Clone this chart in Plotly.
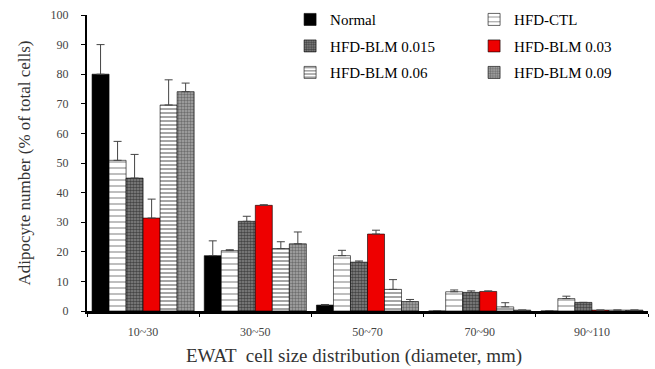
import plotly.graph_objects as go

categories = ["10~30", "30~50", "50~70", "70~90", "90~110"]
series_names = ["Normal", "HFD-CTL", "HFD-BLM 0.015", "HFD-BLM 0.03", "HFD-BLM 0.06", "HFD-BLM 0.09"]

normal = [80.0, 18.7, 2.0, 0.0, 0.0]
hfd_ctl = [50.9, 20.4, 18.7, 6.5, 4.2]
blm_0015 = [44.9, 30.3, 16.5, 6.3, 2.9]
blm_003 = [31.4, 35.7, 26.0, 6.6, 0.3]
blm_006 = [69.6, 21.1, 7.3, 1.4, 0.3]
blm_009 = [74.1, 22.7, 3.2, 0.3, 0.3]

err_normal = [10.0, 5.0, 0.2, 0.0, 0.0]
err_ctl = [6.4, 0.3, 1.8, 0.6, 0.8]
err_0015 = [8.0, 1.7, 0.4, 0.5, 0.0]
err_003 = [6.4, 0.2, 1.3, 0.2, 0.0]
err_006 = [8.5, 2.3, 3.3, 1.4, 0.0]
err_009 = [2.9, 4.0, 0.7, 0.0, 0.0]

values = [normal, hfd_ctl, blm_0015, blm_003, blm_006, blm_009]
errors = [err_normal, err_ctl, err_0015, err_003, err_006, err_009]

patterns = [
    dict(shape=""),
    dict(shape="-", fgcolor="#222222", bgcolor="white", size=6, solidity=0.2, fillmode="overlay"),
    dict(shape=".", fgcolor="black", bgcolor="#8a8a8a", size=3, solidity=0.6, fillmode="overlay"),
    dict(shape=""),
    dict(shape="-", fgcolor="black", bgcolor="white", size=4, solidity=0.35, fillmode="overlay"),
    dict(shape=".", fgcolor="#333333", bgcolor="#a8a8a8", size=3, solidity=0.5, fillmode="overlay"),
]
colors = ["black", "white", "#8a8a8a", "#ee0000", "white", "#a8a8a8"]
legends = ["legend", "legend2", "legend", "legend2", "legend", "legend2"]

fig = go.Figure()
for i, name in enumerate(series_names):
    fig.add_trace(go.Bar(
        x=categories, y=values[i], name=name,
        marker=dict(color=colors[i], pattern=patterns[i], line=dict(color="black", width=0.6)),
        error_y=dict(type="data", symmetric=False, array=errors[i], arrayminus=[0]*5,
                     color="#444444", thickness=1, width=4),
        legend=legends[i], legendgroup=name,
    ))

font_family = "Liberation Serif"
legend_common = dict(font=dict(family=font_family, size=15, color="black"),
                     bgcolor="rgba(0,0,0,0)", yanchor="top", xanchor="left",
                     tracegroupgap=4, itemwidth=30)

fig.update_layout(
    width=655, height=369,
    margin=dict(l=87, r=7, t=15, b=58, autoexpand=False),
    paper_bgcolor="white", plot_bgcolor="white",
    barmode="group", bargap=0.09, bargroupgap=0,
    font=dict(family=font_family),
    legend=dict(x=0.362, y=1.04, **legend_common),
    legend2=dict(x=0.69, y=1.04, **legend_common),
    xaxis=dict(showline=True, linecolor="black", linewidth=2.5, ticks="outside",
               tickson="boundaries", ticklen=3, tickcolor="black", ticklabelstandoff=8,
               tickfont=dict(family=font_family, size=12, color="#444444"),
               showgrid=False, automargin=False),
    yaxis=dict(range=[0, 100], showline=True, linecolor="black", linewidth=2,
               ticks="outside", ticklen=4, tickcolor="black", dtick=10, ticklabelstandoff=10,
               tickfont=dict(family=font_family, size=12, color="#444444"),
               showgrid=False, zeroline=False, automargin=False,
               title=dict(text="Adipocyte number (% of total cells)",
                          font=dict(family=font_family, size=17, color="#333333"),
                          standoff=16)),
    annotations=[dict(text="EWAT  cell size distribution (diameter, mm)",
                      xref="paper", yref="paper", x=0.476, y=-0.152,
                      xanchor="center", yanchor="middle", showarrow=False,
                      font=dict(family=font_family, size=19, color="#333333"))],
)

fig.write_html("out.html", config={"displayModeBar": False},
               post_script="document.body.style.margin='0';")
